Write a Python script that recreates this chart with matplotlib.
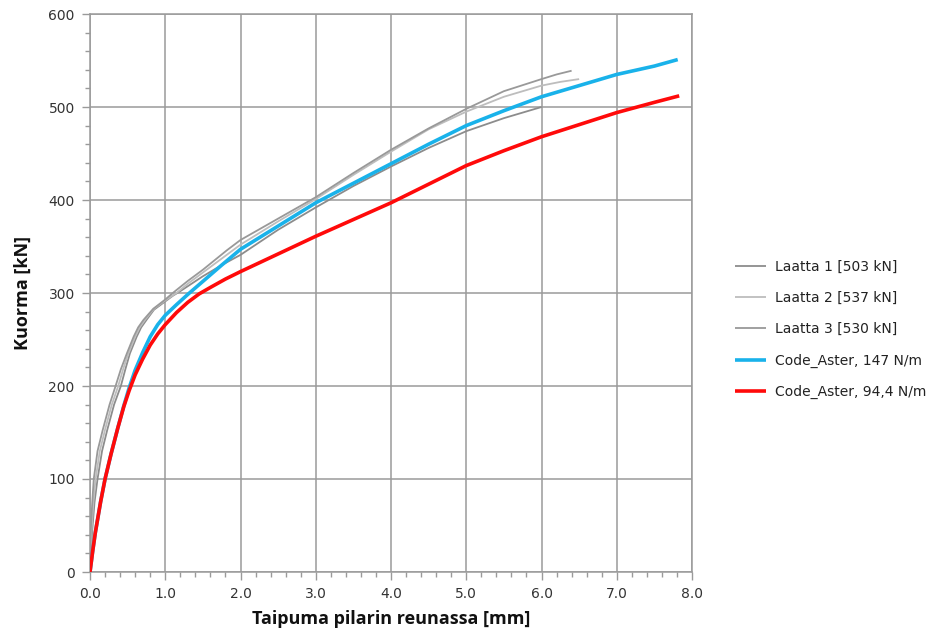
import matplotlib
matplotlib.use("Agg")
import matplotlib.pyplot as plt
from matplotlib.ticker import MultipleLocator, FormatStrFormatter

# Load-deflection data: deflection at column edge [mm] vs. load [kN]
laatta1_x = [0, 0.03, 0.06, 0.10, 0.16, 0.23, 0.32, 0.41, 0.47, 0.53, 0.62, 0.68, 0.75,
             0.85, 1.00, 1.10, 1.20, 1.35, 1.50, 1.75, 2.00, 2.50, 3.00, 3.50, 4.00,
             4.50, 5.00, 5.50, 6.00]
laatta1_y = [0, 45, 75, 100, 130, 153, 180, 200, 218, 235, 253, 263, 271,
             282, 291, 297, 302, 310, 318, 330, 341, 368, 392, 415, 436,
             456, 474, 488, 500]

laatta2_x = [0, 0.02, 0.045, 0.075, 0.13, 0.20, 0.29, 0.375, 0.44, 0.51, 0.60, 0.66,
             0.73, 0.85, 1.00, 1.15, 1.30, 1.50, 1.75, 2.00, 2.50, 3.00, 3.50, 4.00,
             4.50, 5.00, 5.50, 6.00, 6.25, 6.50]
laatta2_y = [0, 45, 75, 100, 130, 153, 180, 200, 218, 235, 253, 263,
             271, 283, 292, 300, 310, 322, 337, 352, 377, 401, 427, 452,
             476, 495, 511, 523, 527, 530]

laatta3_x = [0, 0.01, 0.03, 0.05, 0.10, 0.17, 0.26, 0.34, 0.41, 0.49, 0.58, 0.64,
             0.71, 0.84, 1.00, 1.10, 1.30, 1.50, 1.82, 2.00, 2.50, 3.00, 3.50, 4.00,
             4.50, 5.00, 5.50, 6.00, 6.20, 6.40]
laatta3_y = [0, 45, 75, 100, 130, 153, 180, 200, 218, 235, 253, 263,
             271, 283, 293, 300, 313, 325, 346, 357, 380, 403, 429, 454,
             477, 498, 517, 530, 535, 539]

aster147_x = [0, 0.035, 0.07, 0.14, 0.20, 0.28, 0.37, 0.45, 0.52, 0.60, 0.70, 0.80,
              0.90, 1.00, 1.15, 1.30, 1.50, 1.75, 2.00, 2.50, 3.00, 3.50, 4.00, 4.50,
              5.00, 5.50, 6.00, 6.50, 7.00, 7.50, 7.81]
aster147_y = [0, 22, 42, 75, 100, 127, 155, 179, 198, 217, 236, 253,
              266, 276, 287.5, 298.5, 312.5, 330, 347, 372, 397, 418, 439, 460,
              480, 496, 511, 523, 535, 544, 551]

aster94_x = [0, 0.035, 0.07, 0.14, 0.20, 0.28, 0.37, 0.45, 0.52, 0.60, 0.70, 0.80,
             0.90, 1.00, 1.15, 1.30, 1.45, 1.60, 1.80, 2.00, 2.50, 3.00, 3.50, 4.00,
             4.50, 5.00, 5.50, 6.00, 6.50, 7.00, 7.50, 7.83]
aster94_y = [0, 22, 42, 75, 100, 127, 155, 178, 195, 212, 229, 244,
             256, 266, 279, 290, 299, 306, 315, 323, 342, 361, 379, 397,
             417, 437, 453, 468, 481, 494, 505, 512]

series = [
    (laatta1_x, laatta1_y, "Laatta 1 [503 kN]", "#8c8c8c", 1.3),
    (laatta2_x, laatta2_y, "Laatta 2 [537 kN]", "#bdbdbd", 1.3),
    (laatta3_x, laatta3_y, "Laatta 3 [530 kN]", "#999999", 1.3),
    (aster147_x, aster147_y, "Code_Aster, 147 N/m", "#19b2ea", 2.6),
    (aster94_x, aster94_y, "Code_Aster, 94,4 N/m", "#ff0a0a", 2.6),
]

fig = plt.figure(figsize=(9.36, 6.39), dpi=100)
ax = fig.add_axes([90 / 936, 67 / 639, 602 / 936, 558 / 639])

for xs, ys, label, color, lw in series:
    ax.plot(xs, ys, color=color, lw=lw, label=label, solid_joinstyle="round",
            solid_capstyle="butt", zorder=3)

ax.set_xlim(0, 8)
ax.set_ylim(0, 600)
ax.xaxis.set_major_locator(MultipleLocator(1.0))
ax.xaxis.set_minor_locator(MultipleLocator(0.2))
ax.yaxis.set_major_locator(MultipleLocator(100))
ax.yaxis.set_minor_locator(MultipleLocator(20))
ax.xaxis.set_major_formatter(FormatStrFormatter("%.1f"))

grid_color = "#9a9a9a"
ax.grid(True, which="major", color=grid_color, lw=1.1, zorder=0)
for side in ["left", "bottom", "right", "top"]:
    ax.spines[side].set_color(grid_color)
    ax.spines[side].set_linewidth(1.1)

ax.tick_params(which="major", direction="out", length=6, width=1.0, color=grid_color,
               labelsize=10, labelcolor="#333333", pad=5)
ax.tick_params(which="minor", direction="out", length=3.5, width=1.0, color=grid_color)

ax.set_xlabel("Taipuma pilarin reunassa [mm]", fontsize=13, fontweight="bold",
              family="Open Sans", color="#111111", labelpad=6)
ax.set_ylabel("Kuorma [kN]", fontsize=13, fontweight="bold",
              family="Open Sans", color="#111111", labelpad=12)

fig.legend(loc="upper left", bbox_to_anchor=(722 / 936, 1 - 247 / 639), frameon=False,
           fontsize=10, handlelength=2.3, handletextpad=0.6, labelspacing=1.25,
           labelcolor="#222222")

fig.savefig("out.png", dpi=100)
